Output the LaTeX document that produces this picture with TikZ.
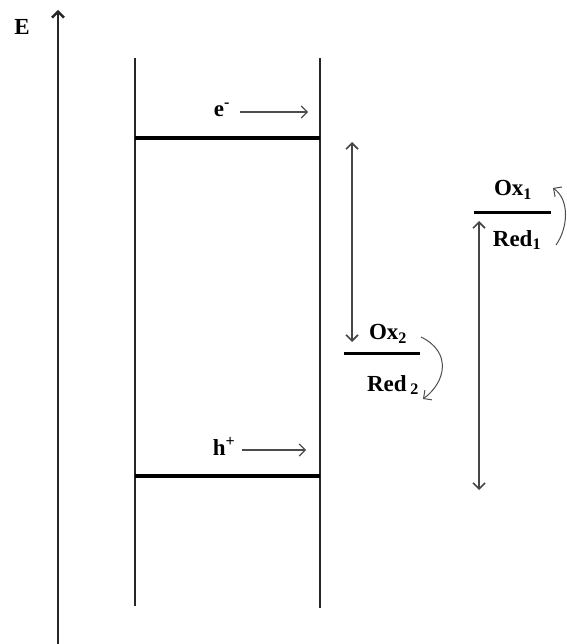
\documentclass[tikz,border=0pt]{standalone}
\usepackage{fontspec}
\setmainfont{Liberation Serif}
\usetikzlibrary{arrows.meta, positioning}

\begin{document}
\begin{tikzpicture}[
    x=1pt, y=-1pt,
    >={Straight Barb[length=6pt, width=12pt]},
    every node/.style={inner sep=1pt, font=\fontsize{23}{26}\selectfont\bfseries},
    axisline/.style={->, line width=2.4pt, black!85},
    wall/.style={line width=2.6pt, black!85},
    bandline/.style={line width=3.2pt},
    level/.style={line width=3pt},
    carrier/.style={->, line width=1.2pt, gray!60!black},
    gaparc/.style={<->, line width=1.6pt, gray!55!black},
    transfer/.style={->, line width=1pt, gray!60!black},
    ]
  \useasboundingbox (0,0) rectangle (566,644);

  % energy axis
  \coordinate (ebot) at (58,644);
  \coordinate (etop) at (58,10);
  \draw[axisline] (ebot) -- (etop);
  \node (elab) at (22,27) {E};

  % semiconductor bands
  \coordinate (lt) at (135,58);
  \coordinate (lb) at (135,606);
  \coordinate (rt) at (320,58);
  \coordinate (rb) at (320,608);
  \coordinate (cbl) at (135,138);
  \coordinate (cbr) at (320,138);
  \coordinate (vbl) at (135,476);
  \coordinate (vbr) at (320,476);
  \draw[wall] (lt) -- (lb);
  \draw[wall] (rt) -- (rb);
  \draw[bandline] (cbl) -- (cbr);
  \draw[bandline] (vbl) -- (vbr);

  % carriers
  \node (elec) at (222,110) {e\textsuperscript{-}};
  \coordinate (elecstart) at (240,112);
  \coordinate (elecend) at (308,112);
  \draw[carrier] (elecstart) -- (elecend);
  \node (hole) at (224,446) {h\textsuperscript{+}};
  \coordinate (holestart) at (242,450);
  \coordinate (holeend) at (306,450);
  \draw[carrier] (holestart) -- (holeend);

  % couple 2
  \coordinate (gtop) at (352,142);
  \coordinate (gbot) at (352,342);
  \draw[gaparc] (gtop) -- (gbot);
  \coordinate (lv2l) at (344,353);
  \coordinate (lv2r) at (420,353);
  \draw[level] (lv2l) -- (lv2r);
  \node (ox2) at (388,334) {Ox\textsubscript{2}};
  \node (red2) at (393,385) {Red\,\textsubscript{2}};
  \coordinate (c2a) at (421,337);
  \coordinate (c2b) at (423,399);
  \draw[transfer] (c2a) .. controls (452,352) and (446,382) .. (c2b);

  % couple 1
  \coordinate (stop) at (479,221);
  \coordinate (sbot) at (479,490);
  \draw[gaparc] (stop) -- (sbot);
  \coordinate (lv1l) at (474,212);
  \coordinate (lv1r) at (551,212);
  \draw[level] (lv1l) -- (lv1r);
  \node (ox1) at (513,190) {Ox\textsubscript{1}};
  \node (red1) at (517,240) {Red\textsubscript{1}};
  \coordinate (c1a) at (556,245);
  \coordinate (c1b) at (553,188);
  \draw[transfer] (c1a) .. controls (568,228) and (570,200) .. (c1b);
\end{tikzpicture}
\end{document}
